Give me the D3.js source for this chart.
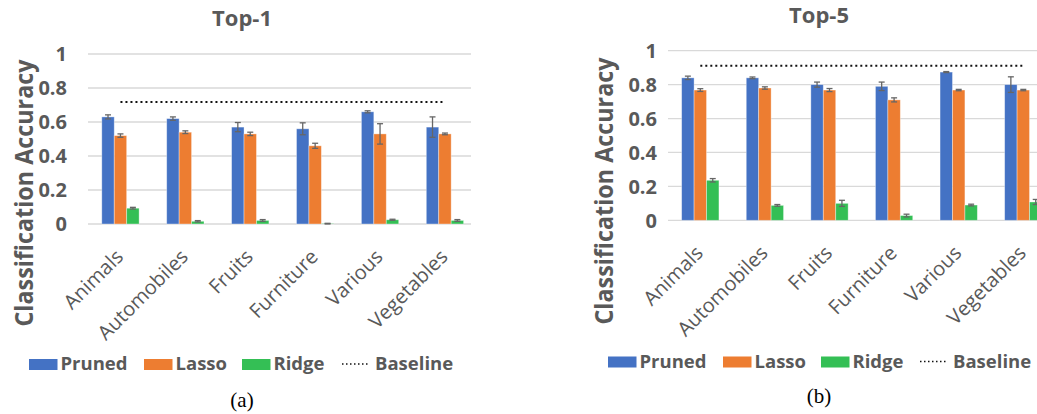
<!DOCTYPE html>
<html>
<head>
<meta charset="utf-8">
<script src="https://cdn.jsdelivr.net/npm/d3@7"></script>
<style>
  body { margin: 0; background: #fff; }
  text { font-family: "Open Sans", sans-serif; }
</style>
</head>
<body>
<div id="chart"></div>
<script>
// categories and series
const categories = ["Animals", "Automobiles", "Fruits", "Furniture", "Various", "Vegetables"];
const seriesNames = ["Pruned", "Lasso", "Ridge"];
const seriesColors = ["#4472C4", "#ED7D31", "#34BF55"];
const yTicks = [0, 0.2, 0.4, 0.6, 0.8, 1];

// Top-1
const top1Pruned = [0.63, 0.62, 0.57, 0.56, 0.66, 0.57];
const top1PrunedErr = [0.012, 0.01, 0.027, 0.035, 0.006, 0.06];
const top1Lasso = [0.52, 0.54, 0.53, 0.46, 0.53, 0.53];
const top1LassoErr = [0.01, 0.008, 0.01, 0.015, 0.06, 0.005];
const top1Ridge = [0.093, 0.016, 0.021, 0.002, 0.025, 0.021];
const top1RidgeErr = [0.005, 0.004, 0.005, 0.002, 0.003, 0.005];
const top1Baseline = 0.718;

// Top-5
const top5Pruned = [0.84, 0.84, 0.80, 0.79, 0.874, 0.80];
const top5PrunedErr = [0.01, 0.005, 0.015, 0.025, 0.003, 0.046];
const top5Lasso = [0.768, 0.78, 0.768, 0.71, 0.768, 0.768];
const top5LassoErr = [0.008, 0.007, 0.009, 0.012, 0.004, 0.004];
const top5Ridge = [0.236, 0.088, 0.10, 0.028, 0.09, 0.108];
const top5RidgeErr = [0.01, 0.005, 0.018, 0.008, 0.005, 0.015];
const top5Baseline = 0.911;

const svg = d3.select("#chart").append("svg")
    .attr("width", 1037)
    .attr("height", 414);

const textColor = "#595959";

function drawPanel(p) {
    const g = svg.append("g");

    const x = d3.scaleBand()
        .domain(categories)
        .range([p.x0, p.x0 + p.band * categories.length]);
    const y = d3.scaleLinear()
        .domain([0, 1])
        .range([p.yBottom, p.yTop]);
    const inner = d3.scaleBand()
        .domain(seriesNames)
        .range([0, 37.3]);

    // gridlines
    g.selectAll(".grid")
        .data(yTicks)
        .enter().append("line")
        .attr("x1", p.x0)
        .attr("x2", p.gridEnd)
        .attr("y1", d => y(d))
        .attr("y2", d => y(d))
        .attr("stroke", "#D9D9D9")
        .attr("stroke-width", 1.3);

    // tick labels
    g.selectAll(".ytick")
        .data(yTicks)
        .enter().append("text")
        .attr("x", p.tickX)
        .attr("y", d => y(d))
        .attr("dy", "0.36em")
        .attr("text-anchor", "end")
        .attr("fill", textColor)
        .style("font-size", "20px")
        .style("font-weight", "bold")
        .text(d => d3.format("")(d));

    // bars + error bars
    const rows = [];
    categories.forEach((c, i) => {
        seriesNames.forEach((s, k) => {
            rows.push({ cat: c, s: s, k: k, v: p.values[k][i], e: p.errors[k][i] });
        });
    });
    const xb = d => x(d.cat) + x.bandwidth() / 2 - 18.65 + inner(d.s);

    g.selectAll(".bar")
        .data(rows)
        .enter().append("rect")
        .attr("x", xb)
        .attr("y", d => y(d.v))
        .attr("width", inner.bandwidth())
        .attr("height", d => y(0) - y(d.v))
        .attr("fill", d => seriesColors[d.k])
        .attr("stroke", "rgba(255,255,255,0.45)")
        .attr("stroke-width", 0.8);

    const eg = g.selectAll(".err")
        .data(rows)
        .enter().append("g")
        .attr("stroke", "#666")
        .attr("stroke-width", 1.3);
    eg.append("line")
        .attr("x1", d => xb(d) + inner.bandwidth() / 2)
        .attr("x2", d => xb(d) + inner.bandwidth() / 2)
        .attr("y1", d => y(d.v - d.e))
        .attr("y2", d => y(d.v + d.e));
    ["-", "+"].forEach(sign => {
        eg.append("line")
            .attr("x1", d => xb(d) + inner.bandwidth() / 2 - 3)
            .attr("x2", d => xb(d) + inner.bandwidth() / 2 + 3)
            .attr("y1", d => y(sign === "-" ? d.v - d.e : d.v + d.e))
            .attr("y2", d => y(sign === "-" ? d.v - d.e : d.v + d.e));
    });

    // baseline dotted line
    g.append("line")
        .attr("x1", x(categories[0]) + x.bandwidth() / 2)
        .attr("x2", x(categories[categories.length - 1]) + x.bandwidth() / 2)
        .attr("y1", y(p.baseline))
        .attr("y2", y(p.baseline))
        .attr("stroke", "#111")
        .attr("stroke-width", 2)
        .attr("stroke-dasharray", "2,3");

    // x labels, rotated
    g.selectAll(".xlab")
        .data(categories)
        .enter().append("text")
        .attr("transform", d => `translate(${x(d) + x.bandwidth() / 2 + 4},${p.yBottom + 34}) rotate(-45)`)
        .attr("text-anchor", "end")
        .attr("fill", textColor)
        .style("font-size", "20px")
        .text(d => d);

    // y axis title
    g.append("text")
        .attr("transform", `translate(${p.titleX},${p.titleY}) rotate(-90)`)
        .attr("text-anchor", "middle")
        .attr("fill", textColor)
        .attr("textLength", 267)
        .attr("lengthAdjust", "spacingAndGlyphs")
        .style("font-size", "25px")
        .style("font-weight", "bold")
        .text("Classification Accuracy");

    // chart title
    g.append("text")
        .attr("x", p.headX)
        .attr("y", p.headY)
        .attr("text-anchor", "middle")
        .attr("fill", textColor)
        .style("font-size", "22px")
        .style("font-weight", "bold")
        .text(p.title);

    // legend
    const lg = g.append("g").attr("transform", `translate(0,${p.legY})`);
    seriesNames.forEach((s, k) => {
        lg.append("rect")
            .attr("x", p.legX[k])
            .attr("y", -11)
            .attr("width", 28.5)
            .attr("height", 11)
            .attr("fill", seriesColors[k]);
        lg.append("text")
            .attr("x", p.legX[k] + 31.5)
            .attr("y", 0)
            .attr("fill", textColor)
            .style("font-size", "18.5px")
            .style("font-weight", "bold")
            .text(s);
    });
    lg.append("line")
        .attr("x1", p.legX[3])
        .attr("x2", p.legX[3] + 27)
        .attr("y1", -6)
        .attr("y2", -6)
        .attr("stroke", "#111")
        .attr("stroke-width", 1.5)
        .attr("stroke-dasharray", "1.5,2.5");
    lg.append("text")
        .attr("x", p.legX[3] + 33)
        .attr("y", 0)
        .attr("fill", textColor)
        .style("font-size", "18.5px")
        .style("font-weight", "bold")
        .text("Baseline");

    // caption
    g.append("text")
        .attr("x", p.headX)
        .attr("y", p.capY)
        .attr("text-anchor", "middle")
        .attr("fill", "#000")
        .style("font-family", "'Liberation Serif', serif")
        .style("font-size", "21px")
        .text(p.caption);
}

drawPanel({
    title: "Top-1", caption: "(a)",
    values: [top1Pruned, top1Lasso, top1Ridge],
    errors: [top1PrunedErr, top1LassoErr, top1RidgeErr],
    baseline: top1Baseline,
    x0: 88, band: 64.9, gridEnd: 471,
    yTop: 54, yBottom: 224,
    tickX: 67, titleX: 33, titleY: 193,
    headX: 242, headY: 26,
    legY: 370, legX: [29, 144, 242, 342],
    capY: 407
});

drawPanel({
    title: "Top-5", caption: "(b)",
    values: [top5Pruned, top5Lasso, top5Ridge],
    errors: [top5PrunedErr, top5LassoErr, top5RidgeErr],
    baseline: top5Baseline,
    x0: 668, band: 64.6, gridEnd: 1037,
    yTop: 50.7, yBottom: 220.3,
    tickX: 657, titleX: 613, titleY: 191,
    headX: 819, headY: 22.5,
    legY: 367.5, legX: [608, 723, 821, 920],
    capY: 403
});
</script>
</body>
</html>
